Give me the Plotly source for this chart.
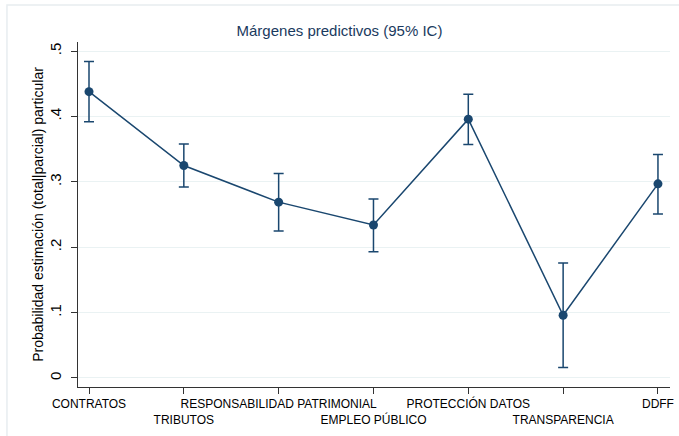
import plotly.graph_objects as go

# predictive margins with 95% CI
categories = ["CONTRATOS", "TRIBUTOS", "RESPONSABILIDAD PATRIMONIAL", "EMPLEO PÚBLICO",
              "PROTECCIÓN DATOS", "TRANSPARENCIA", "DDFF"]
margins = [0.438, 0.325, 0.269, 0.234, 0.396, 0.096, 0.297]
ci_upper = [0.484, 0.358, 0.313, 0.274, 0.434, 0.176, 0.342]
ci_lower = [0.392, 0.292, 0.225, 0.193, 0.357, 0.016, 0.251]
y_ticks = [0, 0.1, 0.2, 0.3, 0.4, 0.5]
y_tick_labels = ["0", ".1", ".2", ".3", ".4", ".5"]

navy = "#1a476f"
x_pos = list(range(1, len(categories) + 1))
# stagger labels: every second one goes on a lower line
x_labels = [c if i % 2 == 0 else "<br>" + c for i, c in enumerate(categories)]

fig = go.Figure()
fig.add_trace(go.Scatter(
    x=x_pos, y=margins,
    mode="lines+markers",
    line=dict(color=navy, width=1.5),
    marker=dict(color=navy, size=9),
    error_y=dict(type="data", symmetric=False,
                 array=[u - m for u, m in zip(ci_upper, margins)],
                 arrayminus=[m - l for m, l in zip(margins, ci_lower)],
                 color=navy, thickness=1.5, width=5),
    showlegend=False,
))

fig.update_layout(
    width=679, height=436,
    margin=dict(l=78, r=9, t=42, b=49),
    paper_bgcolor="white",
    plot_bgcolor="white",
    font=dict(family="Liberation Sans, Arial", size=12, color="black"),
    title=dict(text="Márgenes predictivos (95% IC)", x=0.5, xanchor="center",
               y=0.929, yanchor="middle",
               font=dict(size=15, color="#1a3a5e")),
    xaxis=dict(
        range=[0.884, 7.127],
        tickvals=x_pos, ticktext=x_labels,
        ticks="outside", ticklen=6, tickcolor="#333",
        showline=True, linecolor="#333", linewidth=1,
        showgrid=False, zeroline=False,
        tickangle=0, automargin=False,
        tickfont=dict(size=12),
    ),
    yaxis=dict(
        range=[-0.0138, 0.514],
        tickvals=y_ticks, ticktext=y_tick_labels,
        tickangle=-90,
        ticks="outside", ticklen=6, tickcolor="#333",
        ticklabelstandoff=4,
        showline=True, linecolor="#333", linewidth=1,
        showgrid=True, gridcolor="#eaf2f3", gridwidth=1,
        zeroline=False, automargin=False,
        tickfont=dict(size=15),
        title=dict(text="Probabilidad estimación (total|parcial) particular",
                   font=dict(size=14), standoff=0),
    ),
    shapes=[dict(type="rect", xref="paper", yref="paper",
                 x0=-0.12, x1=1.2, y0=-0.3, y1=1.107,
                 line=dict(color="#e8edf0", width=1.5), layer="below")],
)

# drop the browser's default body margin so the figure sits at the page corner
fig.write_html("out.html", config={"displayModeBar": False},
               post_script="document.body.style.margin='0';")
